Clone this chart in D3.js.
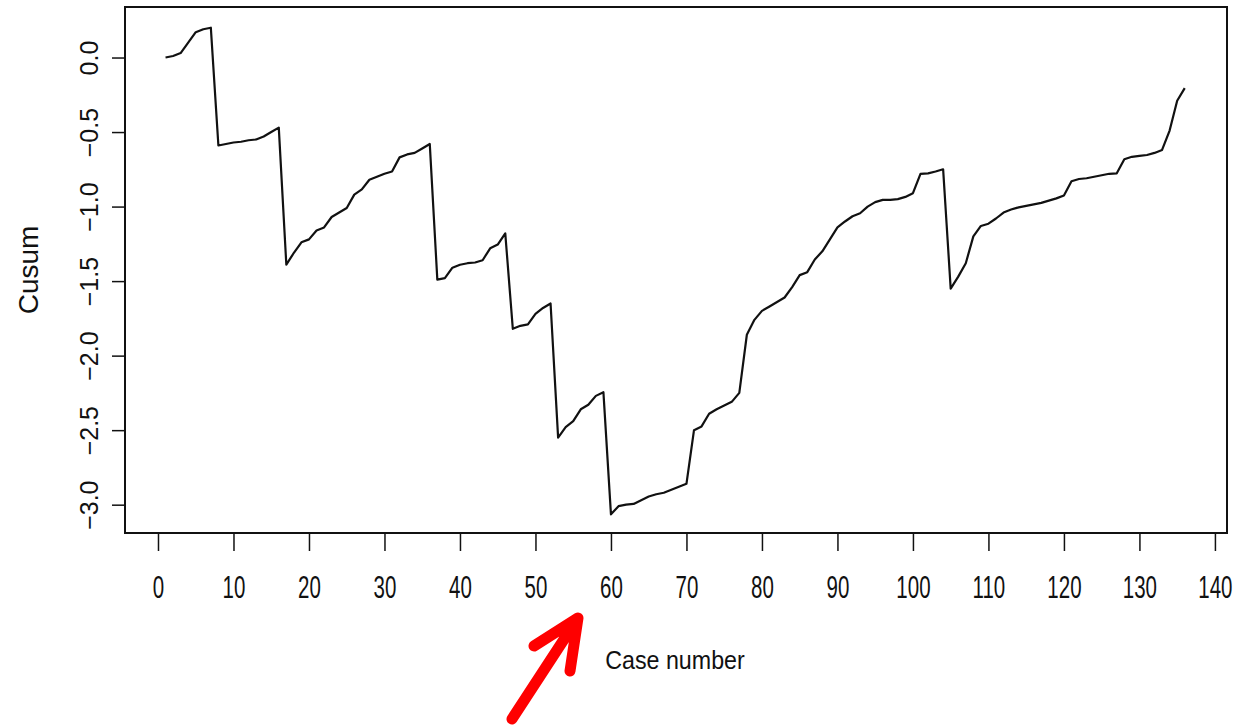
<!DOCTYPE html>
<html><head><meta charset="utf-8">
<script src="https://cdn.jsdelivr.net/npm/d3@7"></script>
<style>html,body{margin:0;padding:0;background:#fff;}svg{display:block;}</style>
</head><body>
<script>
const cases = d3.range(1, 137);
const cusum = [
 0.00, 0.01, 0.03, 0.10, 0.17, 0.19, 0.20, -0.59, -0.58, -0.57,
 -0.565, -0.555, -0.55, -0.53, -0.50, -0.47, -1.39, -1.31, -1.24, -1.22,
 -1.16, -1.14, -1.07, -1.04, -1.01, -0.92, -0.885, -0.82, -0.80, -0.78,
 -0.765, -0.67, -0.65, -0.64, -0.61, -0.58, -1.49, -1.48, -1.41, -1.39,
 -1.38, -1.375, -1.36, -1.28, -1.255, -1.18, -1.82, -1.80, -1.79, -1.72,
 -1.68, -1.65, -2.55, -2.48, -2.44, -2.36, -2.33, -2.27, -2.245, -3.065,
 -3.01, -3.00, -2.995, -2.97, -2.945, -2.93, -2.92, -2.90, -2.88, -2.86,
 -2.50, -2.475, -2.39, -2.36, -2.335, -2.31, -2.25, -1.86, -1.76, -1.70,
 -1.67, -1.64, -1.61, -1.54, -1.46, -1.44, -1.355, -1.30, -1.22, -1.14,
 -1.10, -1.065, -1.045, -1.00, -0.97, -0.955, -0.955, -0.95, -0.935, -0.91,
 -0.78, -0.777, -0.765, -0.75, -1.55, -1.47, -1.38, -1.20, -1.13, -1.115,
 -1.08, -1.04, -1.02, -1.005, -0.995, -0.985, -0.975, -0.96, -0.945, -0.925,
 -0.83, -0.815, -0.81, -0.80, -0.79, -0.78, -0.777, -0.683, -0.666, -0.66,
 -0.654, -0.64, -0.62, -0.49, -0.29, -0.205
];
const xTicks = d3.range(0, 141, 10);
const yTicks = [0.0, -0.5, -1.0, -1.5, -2.0, -2.5, -3.0];
const xTitle = "Case number";
const yTitle = "Cusum";

const W = 1241, H = 728;
const box = {left: 125, right: 1227, top: 7, bottom: 533};
const x = d3.scaleLinear().domain([-4.37, 141.6]).range([box.left, box.right]);
const y = d3.scaleLinear().domain([0.339, -3.19]).range([box.top, box.bottom]);

const svg = d3.select("body").append("svg").attr("width", W).attr("height", H)
  .style("font-family", "'Liberation Sans', Arial, sans-serif");

// data line
svg.append("path")
  .datum(cases.map((c, i) => [c, cusum[i]]))
  .attr("fill", "none").attr("stroke", "#111").attr("stroke-width", 2.2)
  .attr("stroke-linejoin", "round")
  .attr("d", d3.line().x(d => x(d[0])).y(d => y(d[1])));

// box
svg.append("rect").attr("x", box.left).attr("y", box.top)
  .attr("width", box.right - box.left).attr("height", box.bottom - box.top)
  .attr("fill", "none").attr("stroke", "#111").attr("stroke-width", 2);

// x axis
const xAxis = d3.axisBottom(x).tickValues(xTicks).tickSize(18).tickPadding(24).tickFormat(d3.format("d"));
const gx = svg.append("g").attr("transform", `translate(0,${box.bottom})`).call(xAxis);
gx.select(".domain").remove();
gx.selectAll(".tick line").attr("stroke", "#111").attr("stroke-width", 1.5);
gx.selectAll(".tick text").attr("fill", "#111").attr("font-size", 32)
  .attr("font-family", "'Liberation Sans', Arial, sans-serif")
  .each(function() {
    const t = d3.select(this);
    const yy = +t.attr("y");
    t.attr("transform", `translate(0,${yy}) scale(0.64,1)`).attr("y", 0).attr("dy", "0.71em");
  });

// y axis
const yAxis = d3.axisLeft(y).tickValues(yTicks).tickSize(13).tickPadding(12).tickFormat(d3.format(".1f"));
const gy = svg.append("g").attr("transform", `translate(${box.left},0)`).call(yAxis);
gy.select(".domain").remove();
gy.selectAll(".tick line").attr("stroke", "#111").attr("stroke-width", 1.5);
gy.selectAll(".tick text").attr("fill", "#111").attr("font-size", 25)
  .attr("font-family", "'Liberation Sans', Arial, sans-serif")
  .attr("text-anchor", "middle").attr("x", 0).attr("dy", 0)
  .attr("transform", "translate(-36,0) rotate(-90)")
  .attr("y", 0).attr("dominant-baseline", "central");

// titles
svg.append("text").attr("x", 675).attr("y", 669).attr("text-anchor", "middle")
  .attr("font-size", 25).attr("fill", "#111").attr("transform", "translate(675,0) scale(0.93,1) translate(-675,0)")
  .text(xTitle);
svg.append("text").attr("transform", "translate(38,270) rotate(-90)")
  .attr("text-anchor", "middle").attr("font-size", 28).attr("fill", "#111")
  .text(yTitle);

// red arrow annotation
svg.append("path")
  .attr("d", "M512,719 L576,621 M534,646 L578,618 L570,671")
  .attr("fill", "none").attr("stroke", "#fe0000").attr("stroke-width", 11)
  .attr("stroke-linecap", "round").attr("stroke-linejoin", "round");
</script>
</body></html>
